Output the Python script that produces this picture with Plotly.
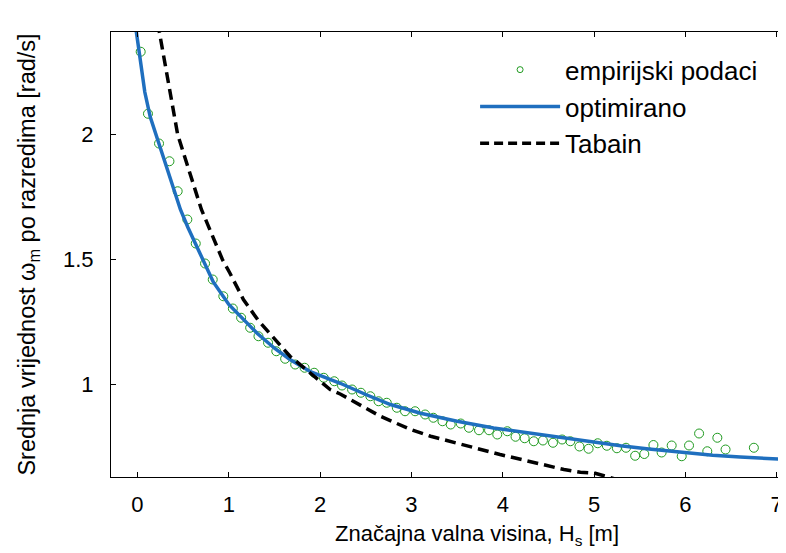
import plotly.graph_objects as go

# empirical data (green circles)
emp_x = [0.035, 0.115, 0.236, 0.35, 0.44, 0.546, 0.638, 0.74, 0.824, 0.94,
         1.044, 1.135, 1.234, 1.325, 1.43, 1.52, 1.617, 1.727, 1.83, 1.935,
         2.04, 2.155, 2.24, 2.35, 2.447, 2.55, 2.64, 2.73, 2.84, 2.93,
         3.04, 3.15, 3.24, 3.34, 3.43, 3.54, 3.63, 3.74, 3.85, 3.94,
         4.05, 4.14, 4.24, 4.34, 4.44, 4.55, 4.65, 4.74, 4.84, 4.94,
         5.04, 5.14, 5.25, 5.35, 5.45, 5.55, 5.65, 5.74, 5.85, 5.96,
         6.04, 6.15, 6.24, 6.35, 6.44, 6.75]
emp_y = [2.331, 2.083, 1.964, 1.893, 1.773, 1.66, 1.564, 1.484, 1.42, 1.353,
         1.304, 1.267, 1.227, 1.193, 1.167, 1.133, 1.103, 1.08, 1.067, 1.047,
         1.027, 1.013, 0.996, 0.98, 0.967, 0.953, 0.933, 0.927, 0.907, 0.893,
         0.893, 0.88, 0.867, 0.853, 0.84, 0.844, 0.827, 0.817, 0.817, 0.80,
         0.813, 0.791, 0.785, 0.773, 0.776, 0.767, 0.78, 0.773, 0.752, 0.743,
         0.765, 0.755, 0.745, 0.747, 0.715, 0.722, 0.758, 0.728, 0.756, 0.713,
         0.756, 0.804, 0.733, 0.787, 0.74, 0.747]

# optimised fit (blue)
opt_x = [-0.02, 0.08, 0.14, 0.23, 0.32, 0.39, 0.47, 0.55, 0.65, 0.83, 1.0,
         1.12, 1.31, 1.5, 1.67, 1.9, 2.22, 2.5, 2.77, 3.1, 3.5, 3.9, 4.3,
         4.7, 5.0, 5.29, 5.6, 5.84, 6.0, 6.3, 6.6, 6.8, 7.1]
opt_y = [2.43, 2.17, 2.07, 1.97, 1.87, 1.80, 1.70, 1.63, 1.55, 1.41, 1.32,
         1.275, 1.205, 1.145, 1.10, 1.05, 1.005, 0.96, 0.92, 0.885, 0.853, 0.826, 0.805,
         0.785, 0.77, 0.755, 0.742, 0.733, 0.725, 0.717, 0.71, 0.705, 0.70]

# Tabain (black dashed)
tab_x = [0.22, 0.44, 0.70, 0.93, 1.01, 1.16, 1.325, 1.67, 2.11, 2.22, 2.66,
         2.99, 3.21, 3.76, 3.97, 4.67, 4.85, 5.0, 5.25]
tab_y = [2.45, 2.0, 1.70, 1.50, 1.447, 1.34, 1.255, 1.113, 0.98, 0.962, 0.873,
         0.82, 0.793, 0.74, 0.72, 0.66, 0.649, 0.646, 0.62]

FONT = "Arial, Liberation Sans, sans-serif"
GREEN = "#1f9a1f"
BLUE = "#1f6fbf"

fig = go.Figure()
fig.add_trace(go.Scatter(x=emp_x, y=emp_y, mode="markers", showlegend=False,
                         marker=dict(symbol="circle-open", size=9, color=GREEN,
                                     line=dict(width=1, color=GREEN))))
fig.add_trace(go.Scatter(x=opt_x, y=opt_y, mode="lines", showlegend=False,
                         line=dict(color=BLUE, width=3.5)))
fig.add_trace(go.Scatter(x=tab_x, y=tab_y, mode="lines", showlegend=False,
                         line=dict(color="black", width=3.5, dash="11px,6px")))

# legend entries (smaller marker like the original)
fig.add_trace(go.Scatter(x=[None], y=[None], mode="markers", name="empirijski podaci",
                         legendgroup="a",
                         marker=dict(symbol="circle-open", size=6, color=GREEN,
                                     line=dict(width=1, color=GREEN))))
fig.add_trace(go.Scatter(x=[None], y=[None], mode="lines", name="optimirano",
                         legendgroup="b", line=dict(color=BLUE, width=3.5)))
fig.add_trace(go.Scatter(x=[None], y=[None], mode="lines", name="Tabain",
                         legendgroup="c",
                         line=dict(color="black", width=3.5, dash="9px,5px")))

axis_common = dict(showline=True, linecolor="black", linewidth=1, mirror="ticks",
                   ticks="inside", ticklen=5, tickcolor="black", showgrid=False,
                   zeroline=False, automargin=False,
                   tickfont=dict(family=FONT, size=22, color="black"))

fig.update_xaxes(range=[-0.29, 7.08], tickvals=[0, 1, 2, 3, 4, 5, 6, 7],
                 ticklabelstandoff=8, **axis_common)
fig.update_yaxes(range=[0.63, 2.41], tickvals=[1, 1.5, 2],
                 ticklabelstandoff=12,
                 title=dict(text="Srednja vrijednost ω<sub>m</sub> po razredima [rad/s]",
                            font=dict(family=FONT, size=23.5, color="black"), standoff=20),
                 **axis_common)

# x label sits a bit right of the axis centre in the original
fig.add_annotation(text="Značajna valna visina, H<sub>s</sub> [m]",
                   xref="paper", yref="paper", x=0.544, y=-0.13,
                   xanchor="center", yanchor="middle", showarrow=False,
                   font=dict(family=FONT, size=22, color="black"))

# page body adds an 8px offset, so the figure is sized to fit the window
fig.update_layout(
    width=778, height=545,
    margin=dict(l=103, r=2, t=24, b=76),
    plot_bgcolor="white", paper_bgcolor="white",
    font=dict(family=FONT, color="black"),
    legend=dict(x=0.541, y=0.968, xanchor="left", yanchor="top",
                bgcolor="rgba(0,0,0,0)", borderwidth=0, itemwidth=80,
                tracegroupgap=0, font=dict(family=FONT, size=26, color="black")),
)

fig.write_html("out.html")
